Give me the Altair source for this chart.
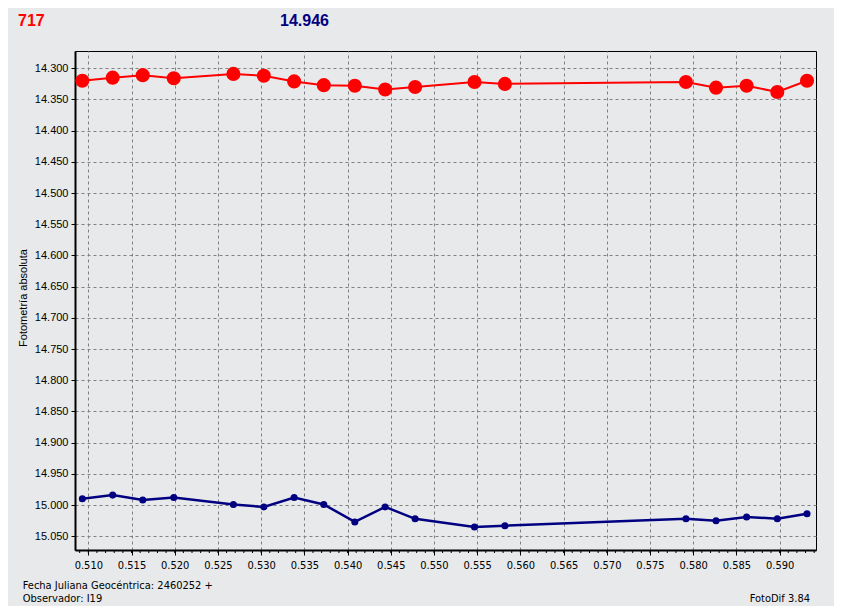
import altair as alt
import pandas as pd

# ---- data ----
jd = [0.50931, 0.51282, 0.51630, 0.51989, 0.52679, 0.53031, 0.53382, 0.53725,
      0.54084, 0.54435, 0.54782, 0.55469, 0.55821, 0.57916, 0.58264, 0.58618,
      0.58973, 0.59317]
mag_717 = [14.320, 14.315, 14.311, 14.316, 14.309, 14.312, 14.321, 14.327,
           14.328, 14.334, 14.330, 14.322, 14.325, 14.322, 14.331, 14.328,
           14.338, 14.320]
mag_ref = [14.990, 14.984, 14.992, 14.988, 14.999, 15.003, 14.988, 14.999,
           15.027, 15.003, 15.022, 15.035, 15.033, 15.022, 15.025, 15.019,
           15.022, 15.014]

x_ticks = [0.510, 0.515, 0.520, 0.525, 0.530, 0.535, 0.540, 0.545, 0.550,
           0.555, 0.560, 0.565, 0.570, 0.575, 0.580, 0.585, 0.590]
y_ticks = [14.300, 14.350, 14.400, 14.450, 14.500, 14.550, 14.600, 14.650,
           14.700, 14.750, 14.800, 14.850, 14.900, 14.950, 15.000, 15.050]
x_minor = [round(0.509 + i * 0.001, 3) for i in range(86)]

title_star = "717"
title_ref = "14.946"
y_title = "Fotometría absoluta"
foot_1 = "Fecha Juliana Geocéntrica: 2460252 +"
foot_2 = "Observador: I19"
foot_3 = "FotoDif 3.84"

BG = "#e8e9eb"
W, H = 741, 499
LAB_FONT = "DejaVu Sans Condensed, Liberation Sans, sans-serif"
NUM_FONT = "Liberation Sans, Arial, sans-serif"

df_star = pd.DataFrame({"jd": jd, "mag": mag_717})
df_ref = pd.DataFrame({"jd": jd, "mag": mag_ref})
df_minor = pd.DataFrame({"jd": x_minor})
one = pd.DataFrame({"a": [0]})

xs = alt.Scale(domain=[0.50846, 0.59421], nice=False, zero=False)
ys = alt.Scale(domain=[14.2723, 15.072], reverse=True, nice=False, zero=False)

x_enc = alt.X("jd:Q", scale=xs, axis=alt.Axis(
    values=x_ticks, tickCount=40, format=".3f", title=None, grid=True,
    gridColor="#808080", gridDash=[3, 3], gridWidth=1, domainColor="black",
    domainWidth=2, tickColor="black", tickSize=5, tickWidth=1,
    labelFont=LAB_FONT, labelFontSize=11, labelColor="black", labelPadding=4,
    labelFlush=False, labelOverlap=False))
y_enc = alt.Y("mag:Q", scale=ys, axis=alt.Axis(
    values=y_ticks, tickCount=40, format=".3f", title=None, grid=True,
    gridColor="#808080", gridDash=[3, 3], gridWidth=1, domainColor="black",
    domainWidth=2, tickColor="black", tickSize=4, tickWidth=1,
    labelFont=NUM_FONT, labelFontSize=11, labelColor="black", labelPadding=3,
    labelOverlap=False, labelFlush=False))

star_line = alt.Chart(df_star).mark_line(color="#ff0000", strokeWidth=2).encode(x=x_enc, y=y_enc)
star_pts = alt.Chart(df_star).mark_point(filled=True, opacity=1, size=200,
                                         color="#ff0000", shape="circle").encode(x="jd:Q", y="mag:Q")
ref_line = alt.Chart(df_ref).mark_line(color="#000080", strokeWidth=2.5).encode(x="jd:Q", y="mag:Q")
ref_pts = alt.Chart(df_ref).mark_point(filled=True, opacity=1, size=50,
                                       color="#000080", shape="circle").encode(x="jd:Q", y="mag:Q")

minor = alt.Chart(df_minor).mark_rule(color="black", strokeWidth=1).encode(
    x="jd:Q", y=alt.value(H), y2=alt.value(H + 3))


def txt(s, x, y, size, color="black", weight="normal", font=LAB_FONT,
        align="left", angle=0, baseline="alphabetic"):
    return alt.Chart(one).mark_text(
        align=align, baseline=baseline, font=font, fontSize=size,
        fontWeight=weight, color=color, angle=angle).encode(
        x=alt.value(x), y=alt.value(y), text=alt.value(s))


texts = [
    txt(title_star, -57, -25.3, 16, color="#ff0000", weight="bold", font=NUM_FONT),
    txt(title_ref, 205, -25.3, 16, color="#000080", weight="bold", font=NUM_FONT),
    txt(y_title, -48.5, 247, 11, font=NUM_FONT, align="center", angle=270),
    txt(foot_1, -52.3, 538, 11),
    txt(foot_2, -52.3, 551, 11),
    txt(foot_3, 735, 551, 11, align="right"),
]

chart = alt.layer(star_line, ref_line, minor, star_pts, ref_pts, *texts).properties(
    width=W, height=H, background=BG,
    padding={"left": 67, "top": 43, "right": 18, "bottom": 56},
    autosize=alt.AutoSizeParams(type="none"),
).configure_view(stroke="black", strokeWidth=1, fill=BG)

chart.save("out.html", embed_options={"renderer": "svg", "actions": False})
